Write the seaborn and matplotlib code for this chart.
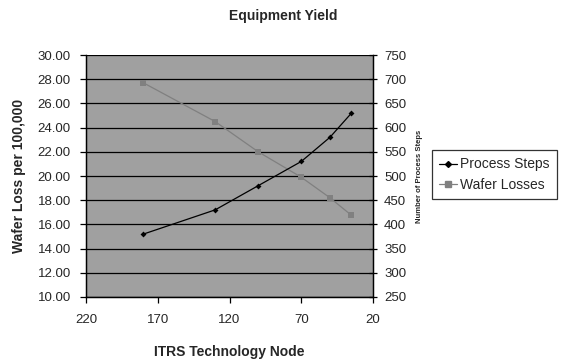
import matplotlib
matplotlib.use("Agg")
import matplotlib.pyplot as plt
import seaborn as sns
import pandas as pd
from matplotlib.lines import Line2D

nodes = [180, 130, 100, 70, 50, 35]
process_steps = [380, 430, 480, 530, 580, 630]
wafer_losses = [27.7, 24.5, 22.0, 19.9, 18.2, 16.75]
x_ticks = [220, 170, 120, 70, 20]
left_ticks = [10, 12, 14, 16, 18, 20, 22, 24, 26, 28, 30]
right_ticks = [250, 300, 350, 400, 450, 500, 550, 600, 650, 700, 750]

sns.set_theme(style="white")
plt.rcParams['font.family'] = ['Liberation Sans', 'DejaVu Sans']

df = pd.DataFrame({"node": nodes, "steps": process_steps, "loss": wafer_losses})

fig = plt.figure(figsize=(5.66, 3.62), dpi=100)
ax = fig.add_axes([0.152, 0.1796, 0.507, 0.6684])
ax.set_facecolor("#A0A0A0")
ax2 = ax.twinx()

sns.lineplot(data=df, x="node", y="loss", ax=ax, color="#808080", marker="s",
             markersize=4, markeredgewidth=0, linewidth=0.9)
sns.lineplot(data=df, x="node", y="steps", ax=ax2, color="black", marker="D",
             markersize=3, markeredgewidth=0, linewidth=0.9)

ax.set_xlim(220, 20)
ax.set_xticks(x_ticks)
ax.set_xticklabels([str(t) for t in x_ticks])
ax.set_ylim(10, 30)
ax.set_yticks(left_ticks)
ax.set_yticklabels([f"{t:.2f}" for t in left_ticks])
ax2.set_ylim(250, 750)
ax2.set_yticks(right_ticks)
ax2.set_yticklabels([str(t) for t in right_ticks])

ax.grid(False)
ax2.grid(False)
for t in left_ticks:
    ax.axhline(t, color="black", linewidth=0.9, zorder=1)

for a in (ax, ax2):
    for s in a.spines.values():
        s.set_color("black")
        s.set_linewidth(0.9)
ax.spines["top"].set_visible(False)
ax2.spines["top"].set_visible(False)

ax.tick_params(axis="x", direction="out", length=4, width=0.9, color="black",
               labelsize=9.5, pad=8, bottom=True)
ax.tick_params(axis="y", direction="out", length=4, width=0.9, color="black",
               labelsize=9.5, pad=7, left=True)
ax2.tick_params(axis="y", direction="inout", length=6, width=0.9, color="black",
                labelsize=9.5, pad=5, right=True)

ax.set_xlabel("ITRS Technology Node", fontsize=10, fontweight="bold", labelpad=14)
ax.set_ylabel("Wafer Loss per 100,000", fontsize=10, fontweight="bold", labelpad=8)
ax2.set_ylabel("Number of Process Steps", fontsize=5.5, fontweight="bold", labelpad=7)

fig.text(0.5, 0.955, "Equipment Yield", ha="center", va="center",
         fontsize=10, fontweight="bold")

handles = [Line2D([], [], color="black", marker="D", markersize=3, linewidth=0.9),
           Line2D([], [], color="#808080", marker="s", markersize=4, linewidth=0.9)]
leg = fig.legend(handles, ["Process Steps", "Wafer Losses"], loc="center left",
                 bbox_to_anchor=(0.763, 0.517), frameon=True, fancybox=False,
                 fontsize=10, handlelength=1.3, handletextpad=0.25,
                 borderpad=0.5, labelspacing=0.5, borderaxespad=0)
leg.get_frame().set_edgecolor("black")
leg.get_frame().set_linewidth(0.9)
for t in leg.get_texts():
    t.set_fontsize(10)

fig.savefig("out.png", dpi=100)
